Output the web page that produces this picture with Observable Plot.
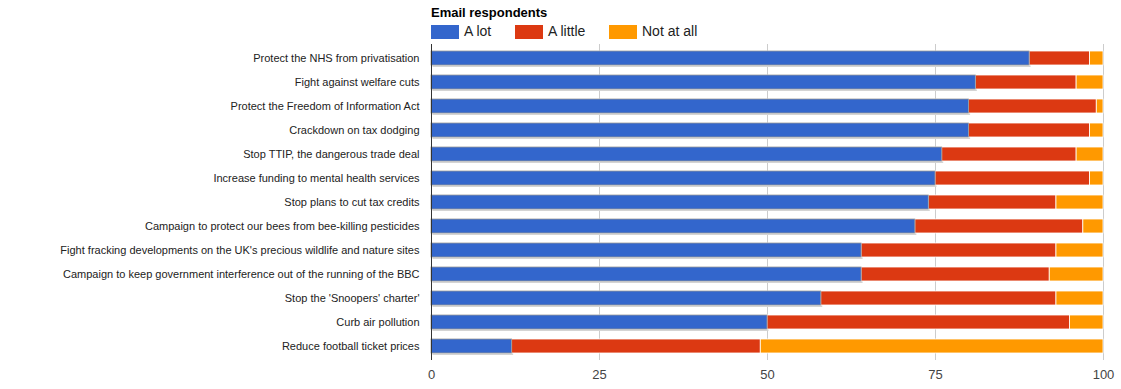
<!DOCTYPE html>
<html>
<head>
<meta charset="utf-8">
<script src="https://cdn.jsdelivr.net/npm/d3@7"></script>
<script src="https://cdn.jsdelivr.net/npm/@observablehq/plot@0.6"></script>
<style>
  body { margin: 0; background: #fff; font-family: Arial, "Liberation Sans", sans-serif; }
  #header { position: relative; height: 42px; }
  #title { position: absolute; left: 431px; top: 5px; font-size: 13px; font-weight: bold; color: #000; }
  .sw { position: absolute; top: 25px; width: 28px; height: 14px; }
  .lt { position: absolute; top: 23px; font-size: 14px; color: #222; }
</style>
</head>
<body>
<div id="header"><div id="title">Email respondents</div></div>
<div id="chart"></div>
<script>
const categories = [
  "Protect the NHS from privatisation",
  "Fight against welfare cuts",
  "Protect the Freedom of Information Act",
  "Crackdown on tax dodging",
  "Stop TTIP, the dangerous trade deal",
  "Increase funding to mental health services",
  "Stop plans to cut tax credits",
  "Campaign to protect our bees from bee-killing pesticides",
  "Fight fracking developments on the UK's precious wildlife and nature sites",
  "Campaign to keep government interference out of the running of the BBC",
  "Stop the 'Snoopers' charter'",
  "Curb air pollution",
  "Reduce football ticket prices"
];
const aLot     = [89, 81, 80, 80, 76, 75, 74, 72, 64, 64, 58, 50, 12];
const aLittle  = [ 9, 15, 19, 18, 20, 23, 19, 25, 29, 28, 35, 45, 37];
const notAtAll = [ 2,  4,  1,  2,  4,  2,  7,  3,  7,  8,  7,  5, 51];
const seriesNames = ["A lot", "A little", "Not at all"];
const seriesColors = ["#3366cc", "#dc3912", "#ff9900"];
const xTicks = [0, 25, 50, 75, 100];

const seriesValues = [aLot, aLittle, notAtAll];
const rows = [];
seriesNames.forEach((s, si) => {
  categories.forEach((c, ci) => rows.push({category: c, series: s, value: seriesValues[si][ci]}));
});

// legend
const header = document.getElementById("header");
const swX = [431, 515, 609];
seriesNames.forEach((s, i) => {
  const sw = document.createElement("div");
  sw.className = "sw"; sw.style.left = swX[i] + "px"; sw.style.background = seriesColors[i];
  header.appendChild(sw);
  const t = document.createElement("div");
  t.className = "lt"; t.style.left = (swX[i] + 33) + "px"; t.textContent = s;
  header.appendChild(t);
});

const blueRows = categories.map((c, i) => ({category: c, value: aLot[i]}));

const chart = Plot.plot({
  width: 1121,
  height: 347,
  marginLeft: 431,
  marginRight: 18,
  marginTop: 2,
  marginBottom: 29,
  style: {fontFamily: "Arial, 'Liberation Sans', sans-serif", background: "#fff"},
  x: {domain: [0, 100], ticks: xTicks, label: null},
  y: {domain: categories, paddingInner: 0.42, paddingOuter: 0.2, label: null},
  color: {domain: seriesNames, range: seriesColors},
  marks: [
    Plot.ruleX(xTicks.filter(d => d > 0), {stroke: "#cccccc", strokeWidth: 1}),
    Plot.barX(blueRows, {x1: 0, x2: "value", y: "category", fill: "#d4d4d4", dx: 1.5, dy: 2}),
    Plot.barX(rows, Plot.stackX({
      x: "value", y: "category", fill: "series",
      stroke: "#ffffff", strokeWidth: 0.8
    })),
    Plot.barX(blueRows, {x1: 0, x2: "value", y: "category", fill: "#3366cc", stroke: "#9a9a9a", strokeWidth: 0.8}),
    Plot.ruleX([0], {stroke: "#333333", strokeWidth: 1}),
    Plot.axisX({ticks: xTicks, tickSize: 0, tickPadding: 9, fontSize: 13, color: "#444", label: null}),
    Plot.axisY({tickSize: 0, tickPadding: 12, fontSize: 11, color: "#222", label: null})
  ]
});
document.getElementById("chart").appendChild(chart);
</script>
</body>
</html>
